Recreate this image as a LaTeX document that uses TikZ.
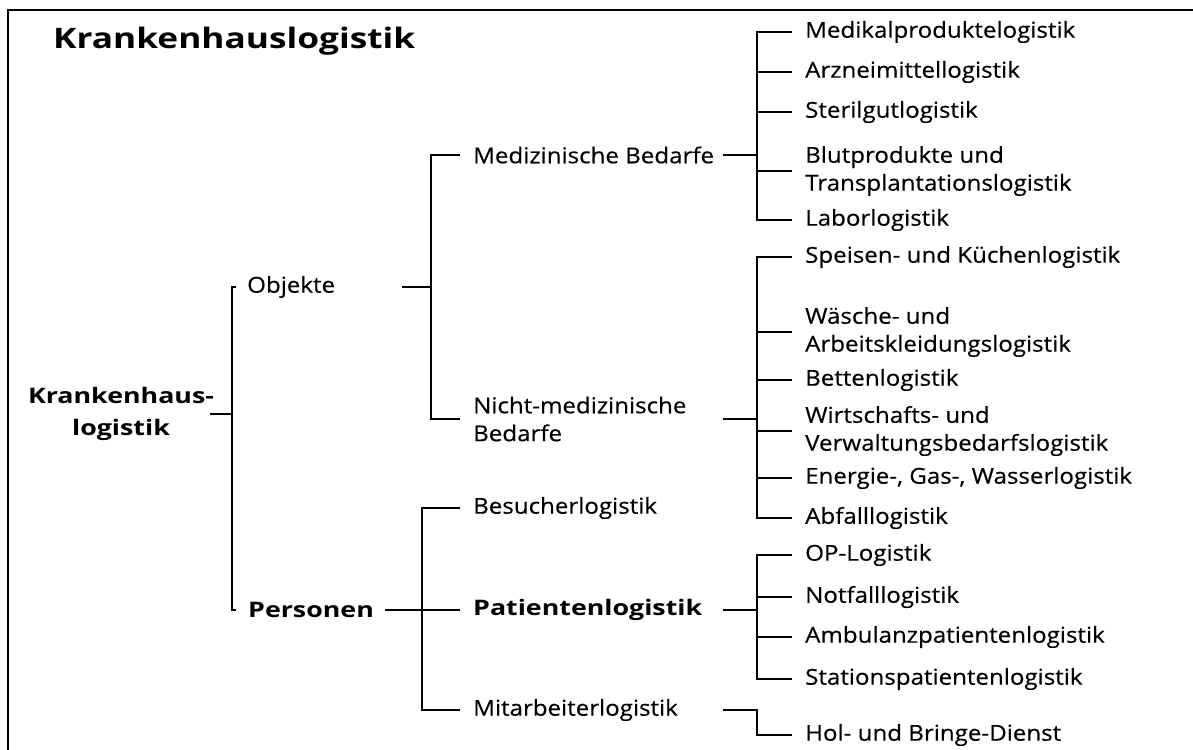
\documentclass[tikz,border=0pt]{standalone}
\usepackage{fontspec}
\setmainfont{Open Sans}[FakeBold=0.4, FakeStretch=1.1]
\newfontfamily\boldfam{Open Sans Bold}[FakeStretch=1.25]
\begin{document}
\begin{tikzpicture}[x=1bp,y=-1bp,
  conn/.style={line width=1.9bp, black},
  frame/.style={line width=2.5bp, black},
  lbl/.style={anchor=west, inner sep=0pt, align=left, font=\fontsize{22}{28}\selectfont},
  blbl/.style={anchor=west, inner sep=0pt, align=left, font=\boldfam\fontsize{21.5}{32}\selectfont},
  ttl/.style={anchor=base west, inner sep=0pt, font=\boldfam\fontsize{28.3}{34}\selectfont}]
\useasboundingbox (0,0) rectangle (1193,750);
\draw[frame] (8,750) -- (8,10) -- (1193,10);

\node[ttl] (title) at (53,49) {Krankenhauslogistik};

% level 0
\node[blbl, anchor=center, align=center] (root) at (121,414) {Krankenhaus-\\logistik};
% level 1
\node[lbl] (obj) at (247,287) {Objekte};
\node[blbl] (pers) at (248,610) {Personen};
% level 2
\node[lbl] (medb) at (473,155) {Medizinische Bedarfe};
\node[lbl] (nmed) at (473,419) {Nicht-medizinische\\Bedarfe};
\node[lbl] (besu) at (473,508) {Besucherlogistik};
\node[blbl] (pat) at (473,610) {Patientenlogistik};
\node[lbl] (mita) at (473,710) {Mitarbeiterlogistik};
% level 3
\node[lbl] (m1) at (805,32) {Medikalproduktelogistik};
\node[lbl] (m2) at (805,72) {Arzneimittellogistik};
\node[lbl] (m3) at (805,112) {Sterilgutlogistik};
\node[lbl] (m4) at (805,171) {Blutprodukte und\\Transplantationslogistik};
\node[lbl] (m5) at (805,220) {Laborlogistik};
\node[lbl] (n1) at (805,257) {Speisen- und Küchenlogistik};
\node[lbl] (n2) at (805,332) {Wäsche- und\\Arbeitskleidungslogistik};
\node[lbl] (n3) at (805,380) {Bettenlogistik};
\node[lbl] (n4) at (805,431) {Wirtschafts- und\\Verwaltungsbedarfslogistik};
\node[lbl] (n5) at (805,478) {Energie-, Gas-, Wasserlogistik};
\node[lbl] (n6) at (805,518) {Abfalllogistik};
\node[lbl] (p1) at (805,555) {OP-Logistik};
\node[lbl] (p2) at (805,597) {Notfalllogistik};
\node[lbl] (p3) at (805,637) {Ambulanzpatientenlogistik};
\node[lbl] (p4) at (805,679) {Stationspatientenlogistik};
\node[lbl] (hol) at (805,735) {Hol- und Bringe-Dienst};

% spine / start coordinates
\coordinate (s0) at (232,0);  \coordinate (a0) at (210,0);
\coordinate (s1) at (431,0);  \coordinate (a1) at (402,0);
\coordinate (s2) at (422,0);  \coordinate (a2) at (385,0);
\coordinate (s3) at (757,0);  \coordinate (a3) at (723,0);

% root
\draw[conn] (root.east -| a0) -- (root.east -| s0);
\draw[conn] ([xshift=4bp]obj.west -| s0) -- (obj.west -| s0) -- (pers.west -| s0) -- ([xshift=4bp]pers.west -| s0);

% Objekte
\draw[conn] (obj.east -| a1) -- (obj.east -| s1);
\draw[conn] ([xshift=-13bp]medb.west) -- (medb.west -| s1) -- (nmed.west -| s1) -- ([xshift=-13bp]nmed.west);

% Personen
\draw[conn] (pers.east -| a2) -- (pers.east -| s2);
\draw[conn] ([xshift=-13bp]besu.west) -- (besu.west -| s2) -- (mita.west -| s2) -- ([xshift=-13bp]mita.west);
\draw[conn] (pat.west -| s2) -- ([xshift=-13bp]pat.west);

% Medizinische Bedarfe
\draw[conn] (medb.east -| a3) -- (medb.east -| s3);
\draw[conn] ([xshift=-13bp]m1.west) -- (m1.west -| s3) -- (m5.west -| s3) -- ([xshift=-13bp]m5.west);
\foreach \c in {m2,m3,m4} \draw[conn] (\c.west -| s3) -- ([xshift=-13bp]\c.west);

% Nicht-medizinische Bedarfe
\draw[conn] (nmed.east -| a3) -- (nmed.east -| s3);
\draw[conn] ([xshift=-13bp]n1.west) -- (n1.west -| s3) -- (n6.west -| s3) -- ([xshift=-13bp]n6.west);
\foreach \c in {n2,n3,n4,n5} \draw[conn] (\c.west -| s3) -- ([xshift=-13bp]\c.west);

% Patientenlogistik
\draw[conn] (pat.east -| a3) -- (pat.east -| s3);
\draw[conn] ([xshift=-13bp]p1.west) -- (p1.west -| s3) -- (p4.west -| s3) -- ([xshift=-13bp]p4.west);
\foreach \c in {p2,p3} \draw[conn] (\c.west -| s3) -- ([xshift=-13bp]\c.west);

% Mitarbeiterlogistik
\draw[conn] (mita.east -| a3) -- (mita.east -| s3) -- (hol.west -| s3) -- ([xshift=-13bp]hol.west);
\end{tikzpicture}
\end{document}
